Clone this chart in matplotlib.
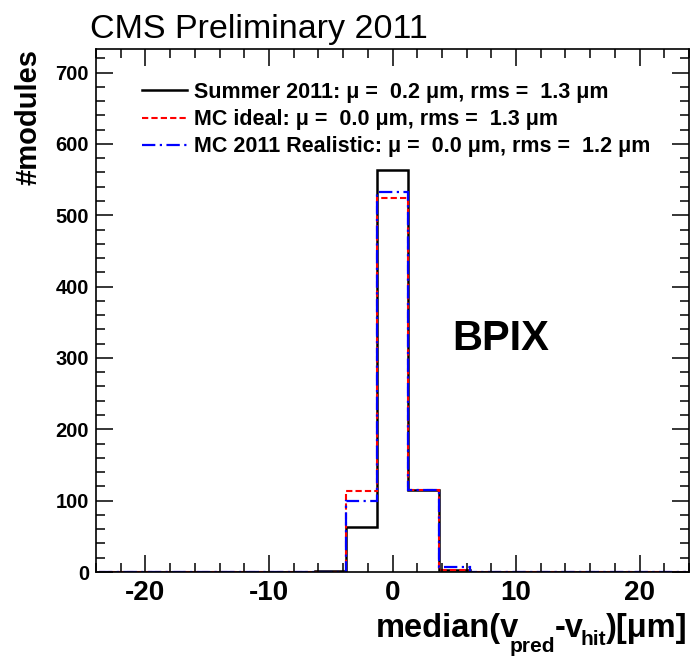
import numpy as np
import matplotlib
matplotlib.use('Agg')
import matplotlib.pyplot as plt
from matplotlib.ticker import MultipleLocator
from matplotlib.lines import Line2D

plt.rcParams['font.family'] = ['Liberation Sans', 'DejaVu Sans']
plt.rcParams['axes.unicode_minus'] = False

# histogram bins (um), 2.5 um wide
bin_edges = np.arange(-23.75, 24.0, 2.5)
summer_2011 = [0, 0, 0, 0, 0, 0, 0, 2, 63, 563, 115, 3, 0, 0, 0, 0, 0, 0, 0]
mc_ideal = [0, 0, 0, 0, 0, 0, 0, 0, 114, 524, 115, 3, 0, 0, 0, 0, 0, 0, 0]
mc_realistic = [0, 0, 0, 0, 0, 0, 0, 0, 99, 532, 115, 7, 0, 0, 0, 0, 0, 0, 0]

labels = ['Summer 2011: \u03bc =  0.2 \u03bcm, rms =  1.3 \u03bcm',
          'MC ideal: \u03bc =  0.0 \u03bcm, rms =  1.3 \u03bcm',
          'MC 2011 Realistic: \u03bc =  0.0 \u03bcm, rms =  1.2 \u03bcm']

xtitle_parts = ['median(v', 'pred', '-v', 'hit', ')[\u03bcm]']

W, H = 695, 657


def main():
    fig = plt.figure(figsize=(W / 100, H / 100), dpi=100)
    ax = fig.add_axes([96 / W, 1 - 572 / H, 593 / W, 523 / H])

    ax.stairs(summer_2011, bin_edges, color='black', lw=1.8)
    ax.stairs(mc_ideal, bin_edges, color='red', lw=1.5, linestyle=(0, (3, 1.5)))
    ax.stairs(mc_realistic, bin_edges, color='blue', lw=1.6, linestyle=(0, (6, 2, 1, 2)))

    ax.set_xlim(-24, 24)
    ax.set_ylim(0, 733)
    ax.xaxis.set_major_locator(MultipleLocator(10))
    ax.xaxis.set_minor_locator(MultipleLocator(2))
    ax.yaxis.set_major_locator(MultipleLocator(100))
    ax.yaxis.set_minor_locator(MultipleLocator(20))
    ax.tick_params(which='both', direction='in', top=True, right=True, width=1.1)
    ax.tick_params(which='major', length=12.5)
    ax.tick_params(which='minor', length=6.5)
    ax.tick_params(axis='x', labelsize=20, pad=6)
    ax.tick_params(axis='y', labelsize=14.5, pad=5)
    for lab in ax.get_xticklabels() + ax.get_yticklabels():
        lab.set_fontweight('bold')
    for s in ax.spines.values():
        s.set_linewidth(1.2)

    ax.set_ylabel('#modules', fontsize=21, fontweight='bold', loc='top')
    ax.yaxis.set_label_coords(-0.091, 1.0)

    # x title built right-to-left so the subscripts sit low like ROOT's
    sizes = [23.5, 15, 23.5, 15, 23.5]
    drops = [0, 15, 0, 8, 0]
    kerns = [0, -10, 0, -3, 0]
    renderer = fig.canvas.get_renderer()
    x = 688
    for i in reversed(range(len(xtitle_parts))):
        t = fig.text(x / W, 1 - (637 + drops[i]) / H, xtitle_parts[i], fontsize=sizes[i],
                     fontweight='bold', ha='right', va='baseline')
        x -= t.get_window_extent(renderer).width + kerns[i]

    fig.text(90 / W, 1 - 38 / H, 'CMS Preliminary 2011', fontsize=24.5, va='baseline')
    ax.text(8.75, 327, 'BPIX', fontsize=30, fontweight='bold', ha='center', va='center')

    handles = [Line2D([], [], color='black', lw=1.8),
               Line2D([], [], color='red', lw=1.5, linestyle=(0, (3, 1.5))),
               Line2D([], [], color='blue', lw=1.6, linestyle=(0, (6, 2, 1, 2)))]
    ax.legend(handles, labels, loc='upper left', bbox_to_anchor=(0.0776, 0.9377),
              frameon=False, borderpad=0, borderaxespad=0, handlelength=2.1,
              handletextpad=0.33, labelspacing=0.3, prop={'size': 15.5, 'weight': 'bold'})

    fig.savefig('out.png', dpi=100)


if __name__ == '__main__':
    main()
